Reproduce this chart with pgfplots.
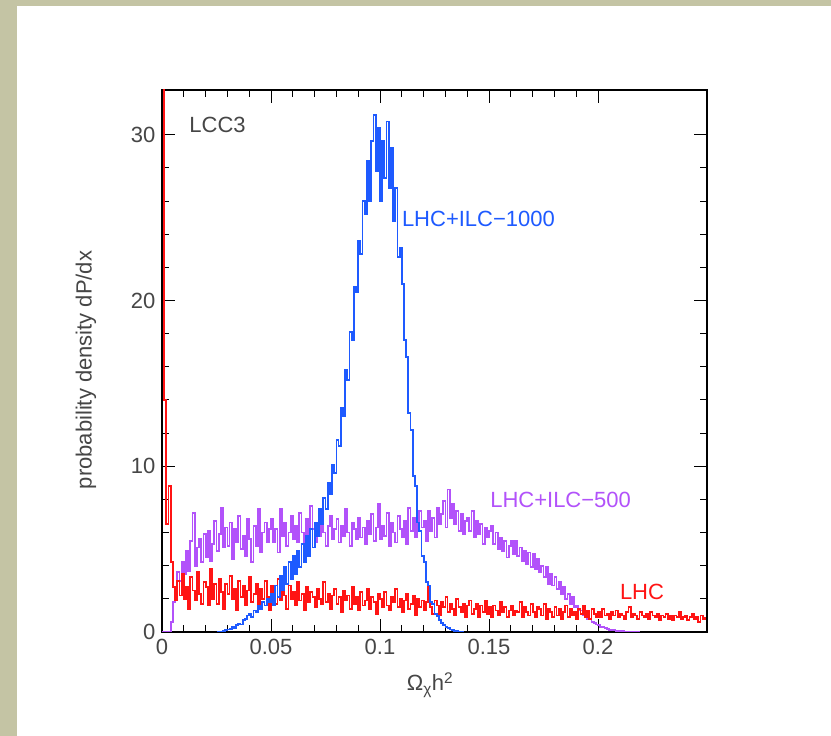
\documentclass[border=0pt]{standalone}
\usepackage{pgfplots}
\pgfplotsset{compat=1.18}
\usepackage{pgfplotstable}
\usepackage{fontspec}
\setmainfont{Liberation Sans}

\definecolor{khaki}{RGB}{196,196,164}
\definecolor{txtgray}{RGB}{70,70,70}
\definecolor{lhcred}{RGB}{255,20,20}
\definecolor{ilcblue}{RGB}{30,90,255}
\definecolor{ilcpurple}{RGB}{178,82,250}

% histograms, bin width 0.001
\pgfplotstableread[row sep=\\]{
y\\
45\\ 14\\ 6.5\\ 8.8\\ 4.2\\ 2.7\\ 1.9\\ 3.1\\ 2.2\\ 3.5\\
2.0\\ 2.7\\ 1.4\\ 3.3\\ 2.5\\ 1.9\\ 3.6\\ 2.3\\ 1.7\\ 3.0\\
2.7\\ 1.6\\ 3.8\\ 2.0\\ 2.9\\ 1.7\\ 3.2\\ 2.4\\ 1.4\\ 2.9\\
2.3\\ 3.4\\ 2.0\\ 2.6\\ 1.3\\ 3.1\\ 2.1\\ 2.8\\ 1.6\\ 2.5\\
3.3\\ 1.8\\ 2.3\\ 2.9\\ 1.5\\ 2.6\\ 2.0\\ 3.1\\ 2.1\\ 1.3\\
2.8\\ 2.4\\ 1.7\\ 3.2\\ 1.9\\ 2.5\\ 2.2\\ 1.4\\ 2.8\\ 2.0\\
2.4\\ 1.6\\ 3.0\\ 1.9\\ 2.3\\ 1.3\\ 2.7\\ 1.8\\ 2.4\\ 2.1\\
1.5\\ 2.6\\ 2.0\\ 1.7\\ 3.0\\ 1.8\\ 2.3\\ 1.4\\ 2.2\\ 2.6\\
1.7\\ 2.1\\ 1.2\\ 2.5\\ 1.9\\ 2.2\\ 1.4\\ 2.7\\ 1.7\\ 2.1\\
1.3\\ 2.4\\ 1.6\\ 1.9\\ 2.6\\ 1.4\\ 2.1\\ 1.8\\ 1.1\\ 2.3\\
2.0\\ 1.5\\ 2.4\\ 1.6\\ 1.3\\ 2.1\\ 1.8\\ 2.6\\ 1.5\\ 2.0\\
1.2\\ 1.9\\ 2.3\\ 1.4\\ 1.7\\ 2.2\\ 1.0\\ 2.0\\ 1.5\\ 1.9\\
1.3\\ 1.8\\ 2.8\\ 1.5\\ 1.1\\ 1.9\\ 1.6\\ 1.0\\ 1.8\\ 1.5\\
2.1\\ 1.2\\ 1.7\\ 1.4\\ 1.0\\ 2.0\\ 1.5\\ 1.2\\ 1.7\\ 0.9\\
1.6\\ 1.9\\ 1.1\\ 1.4\\ 1.7\\ 0.9\\ 1.6\\ 1.2\\ 1.9\\ 1.1\\
1.5\\ 0.9\\ 1.6\\ 1.3\\ 1.0\\ 1.8\\ 1.2\\ 1.5\\ 0.9\\ 1.3\\
1.6\\ 1.0\\ 1.3\\ 1.2\\ 1.8\\ 0.9\\ 1.5\\ 1.2\\ 1.0\\ 1.7\\
1.2\\ 0.9\\ 1.5\\ 1.4\\ 1.0\\ 1.7\\ 0.8\\ 1.4\\ 1.2\\ 0.9\\
1.5\\ 1.0\\ 1.4\\ 0.8\\ 1.2\\ 1.6\\ 0.9\\ 1.4\\ 1.0\\ 1.2\\
0.8\\ 1.4\\ 1.1\\ 1.6\\ 0.9\\ 1.3\\ 0.8\\ 1.4\\ 1.1\\ 0.9\\
1.2\\ 0.9\\ 1.4\\ 1.0\\ 1.1\\ 0.8\\ 1.2\\ 1.0\\ 1.3\\ 0.9\\
1.1\\ 1.0\\ 0.8\\ 1.2\\ 1.5\\ 0.9\\ 1.1\\ 1.0\\ 0.8\\ 1.2\\
1.0\\ 0.9\\ 1.1\\ 0.8\\ 1.2\\ 1.0\\ 0.9\\ 1.1\\ 0.7\\ 1.0\\
0.9\\ 1.1\\ 0.8\\ 1.0\\ 0.7\\ 1.0\\ 0.9\\ 1.2\\ 0.8\\ 0.9\\
1.0\\ 0.7\\ 0.9\\ 1.1\\ 0.8\\ 0.9\\ 0.6\\ 1.0\\ 0.8\\ 0.9\\
}\lhc

\pgfplotstableread[row sep=\\]{
y\\
0\\ 0\\ 0\\ 0\\ 0.6\\ 1.8\\ 2.4\\ 3.6\\ 3.1\\ 4.2\\
3.5\\ 4.9\\ 3.7\\ 5.5\\ 7.2\\ 4.0\\ 5.1\\ 5.6\\ 4.2\\ 5.9\\
4.5\\ 6.1\\ 4.3\\ 5.3\\ 6.7\\ 4.9\\ 5.9\\ 7.5\\ 5.1\\ 6.3\\
5.2\\ 6.6\\ 4.4\\ 6.2\\ 5.4\\ 7.0\\ 5.0\\ 5.8\\ 4.6\\ 6.8\\
5.6\\ 4.2\\ 6.4\\ 5.2\\ 7.4\\ 4.8\\ 6.0\\ 6.6\\ 5.4\\ 6.2\\
6.8\\ 5.4\\ 6.2\\ 4.8\\ 7.4\\ 5.8\\ 6.6\\ 5.2\\ 6.0\\ 7.0\\
5.6\\ 6.4\\ 5.4\\ 7.2\\ 6.0\\ 5.0\\ 6.8\\ 5.8\\ 7.6\\ 6.2\\
5.4\\ 6.6\\ 5.8\\ 7.2\\ 6.0\\ 5.2\\ 6.4\\ 7.0\\ 5.6\\ 6.2\\
6.8\\ 5.4\\ 6.4\\ 5.8\\ 7.4\\ 6.0\\ 5.2\\ 6.6\\ 6.2\\ 5.6\\
6.9\\ 5.7\\ 6.3\\ 5.3\\ 6.7\\ 5.9\\ 7.1\\ 5.5\\ 6.3\\ 7.7\\
5.6\\ 6.4\\ 5.8\\ 7.2\\ 5.2\\ 6.6\\ 6.0\\ 5.4\\ 7.0\\ 6.2\\
5.7\\ 6.7\\ 5.3\\ 7.5\\ 6.1\\ 6.9\\ 5.7\\ 6.5\\ 7.3\\ 6.3\\
6.7\\ 5.5\\ 7.3\\ 6.1\\ 6.9\\ 5.7\\ 7.5\\ 6.5\\ 7.1\\ 7.9\\
6.3\\ 8.6\\ 6.9\\ 7.7\\ 6.5\\ 7.3\\ 6.1\\ 7.1\\ 5.9\\ 6.7\\
6.9\\ 6.1\\ 7.3\\ 5.7\\ 6.7\\ 5.9\\ 6.5\\ 5.3\\ 6.3\\ 5.7\\
6.1\\ 6.4\\ 5.3\\ 6.0\\ 5.0\\ 5.7\\ 4.9\\ 5.5\\ 4.5\\ 5.2\\
5.5\\ 4.7\\ 5.5\\ 4.6\\ 5.1\\ 4.3\\ 4.9\\ 4.1\\ 4.8\\ 3.9\\
4.7\\ 3.8\\ 4.4\\ 3.6\\ 4.0\\ 3.3\\ 3.9\\ 2.9\\ 3.5\\ 2.8\\
3.3\\ 2.6\\ 3.0\\ 2.3\\ 2.7\\ 2.0\\ 2.3\\ 1.7\\ 2.1\\ 1.5\\
1.6\\ 1.3\\ 1.3\\ 1.0\\ 1.0\\ 0.8\\ 0.8\\ 0.6\\ 0.55\\ 0.45\\
0.4\\ 0.32\\ 0.28\\ 0.22\\ 0.18\\ 0.14\\ 0.12\\ 0.1\\ 0.08\\ 0.06\\
0.05\\ 0.04\\ 0.03\\ 0.03\\ 0.02\\ 0.02\\ 0.01\\ 0.01\\ 0.01\\ 0\\
}\ilcfive

% starts at x = 0.025
\pgfplotstableread[row sep=\\]{
y\\
0\\ 0\\ 0\\ 0.05\\ 0.1\\
0.15\\ 0.2\\ 0.3\\ 0.25\\ 0.4\\ 0.5\\ 0.45\\ 0.7\\ 0.8\\ 1.0\\
1.1\\ 0.9\\ 1.3\\ 1.2\\ 1.6\\ 1.4\\ 1.8\\ 1.6\\ 2.0\\ 1.8\\
2.3\\ 1.6\\ 2.8\\ 2.1\\ 3.4\\ 2.5\\ 3.9\\ 2.9\\ 4.2\\ 3.2\\
4.6\\ 3.5\\ 4.9\\ 3.9\\ 5.3\\ 4.2\\ 5.8\\ 4.6\\ 6.2\\ 5.1\\
6.6\\ 5.8\\ 7.4\\ 6.5\\ 8.1\\ 7.4\\ 9.0\\ 8.3\\ 10.1\\ 9.6\\
11.6\\ 11.2\\ 13.5\\ 13.0\\ 15.8\\ 15.2\\ 18.1\\ 17.6\\ 20.8\\ 20.5\\
23.6\\ 22.8\\ 26.0\\ 25.2\\ 28.4\\ 26.0\\ 29.6\\ 31.2\\ 27.8\\ 30.4\\
26.0\\ 29.6\\ 27.4\\ 30.8\\ 26.8\\ 29.2\\ 24.8\\ 26.8\\ 22.6\\ 23.2\\
21.0\\ 17.6\\ 16.6\\ 13.2\\ 12.2\\ 9.4\\ 8.8\\ 6.6\\ 6.1\\ 4.6\\
4.2\\ 3.0\\ 2.8\\ 1.8\\ 1.7\\ 1.1\\ 0.95\\ 0.7\\ 0.55\\ 0.4\\
0.3\\ 0.22\\ 0.15\\ 0.1\\ 0.06\\ 0.04\\ 0.02\\ 0.01\\ 0\\
}\ilcthousand

\begin{document}
\begin{tikzpicture}[x=1pt,y=1pt,font=\fontsize{22}{26}\selectfont]
\fill[khaki] (0,0) rectangle (831,736);
\fill[white] (17,0) rectangle (831,730);
\begin{axis}[
  at={(162pt,104pt)}, anchor=south west,
  width=545pt, height=542pt, scale only axis,
  xmin=0, xmax=0.25, ymin=0, ymax=32.7,
  xtick={0,0.05,0.1,0.15,0.2},
  xticklabels={0,0.05,0.1,0.15,0.2},
  ytick={0,10,20,30},
  yticklabels={0,10,20,30},
  minor x tick num=4, minor y tick num=4,
  tick label style={font=\fontsize{22}{26}\selectfont, text=txtgray},
  major tick length=13pt, minor tick length=7pt,
  every tick/.style={black, line width=1pt},
  axis line style={black, line width=1.6pt},
  xticklabel style={yshift=-4pt},
  yticklabel style={xshift=-3pt},
]
\addplot[const plot mark left, color=ilcpurple, line width=1.8pt]
  table[x expr=\coordindex*0.001, y=y] {\ilcfive};
\addplot[const plot mark left, color=lhcred, line width=1.8pt]
  table[x expr=\coordindex*0.001, y=y] {\lhc};
\addplot[const plot mark left, color=ilcblue, line width=1.8pt]
  table[x expr=0.025+\coordindex*0.001, y=y] {\ilcthousand};

\node[anchor=west, text=txtgray, inner sep=0pt] at (axis cs:0.0125,30.6) {LCC3};
\node[anchor=west, text=ilcblue, inner sep=0pt] at (axis cs:0.110,24.9) {LHC+ILC{\char"2212}1000};
\node[anchor=west, text=ilcpurple, inner sep=0pt] at (axis cs:0.1505,7.97) {LHC+ILC{\char"2212}500};
\node[anchor=west, text=lhcred, inner sep=0pt] at (axis cs:0.210,2.41) {LHC};
\end{axis}
\node[text=txtgray] at (430,51) {Ω\textsubscript{χ}h\textsuperscript{2}};
\node[text=txtgray, rotate=90] at (86,366) {probability density dP/dx};
\end{tikzpicture}
\end{document}
